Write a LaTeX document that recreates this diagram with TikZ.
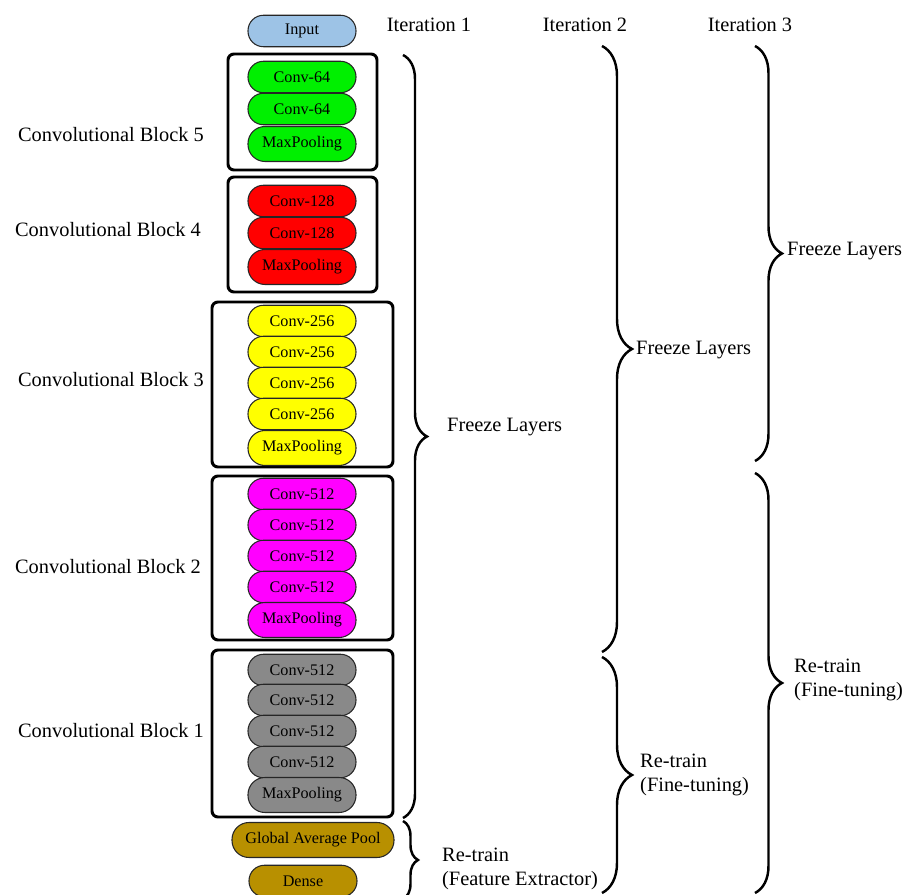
\documentclass[tikz,border=0pt]{standalone}
\usepackage{fontspec}
\setmainfont{Liberation Serif}
\usetikzlibrary{decorations.pathreplacing}

\definecolor{inputblue}{RGB}{157,195,230}
\definecolor{blockgreen}{RGB}{0,240,0}
\definecolor{blockred}{RGB}{255,0,0}
\definecolor{blockyellow}{RGB}{255,255,0}
\definecolor{blockmagenta}{RGB}{255,0,255}
\definecolor{blockgray}{RGB}{137,137,137}
\definecolor{headolive}{RGB}{184,144,0}

\begin{document}
\begin{tikzpicture}[x=0.2mm,y=-0.2mm,
    layer/.style={draw=black!85, line width=0.6pt, rounded corners=3.1mm,
        minimum width=21.6mm, minimum height=6.3mm, inner sep=0pt,
        font=\fontsize{9.2}{10}\selectfont},
    pool/.style={layer, minimum height=7mm, rounded corners=3.4mm},
    blockbox/.style={line width=1.7pt, rounded corners=1.2mm},
    bigtext/.style={font=\fontsize{11.6}{13.6}\selectfont},
    bigbrace/.style={decorate, decoration={brace, amplitude=#1}, line width=1.4pt}]

    \useasboundingbox (0,0) rectangle (907,895);

    % frames of the blocks
    \draw[blockbox] (228,54) rectangle (377,170);
    \draw[blockbox] (228,177) rectangle (377,292);
    \draw[blockbox] (212,302) rectangle (393,467);
    \draw[blockbox] (212,476) rectangle (393,640);
    \draw[blockbox] (212,650) rectangle (393,817);

    % input
    \node[layer, fill=inputblue] (input) at (302,31) {Input};

    % convolutional block 5
    \node[layer, fill=blockgreen] (b5c1) at (302,77) {Conv-64};
    \node[layer, fill=blockgreen] (b5c2) at (302,109) {Conv-64};
    \node[pool, fill=blockgreen] (b5p) at (302,144) {MaxPooling};

    % convolutional block 4
    \node[layer, fill=blockred] (b4c1) at (302,201) {Conv-128};
    \node[layer, fill=blockred] (b4c2) at (302,233) {Conv-128};
    \node[pool, fill=blockred] (b4p) at (302,267) {MaxPooling};

    % convolutional block 3
    \node[layer, fill=blockyellow] (b3c1) at (302,321) {Conv-256};
    \node[layer, fill=blockyellow] (b3c2) at (302,352) {Conv-256};
    \node[layer, fill=blockyellow] (b3c3) at (302,383) {Conv-256};
    \node[layer, fill=blockyellow] (b3c4) at (302,414) {Conv-256};
    \node[pool, fill=blockyellow] (b3p) at (302,448) {MaxPooling};

    % convolutional block 2
    \node[layer, fill=blockmagenta] (b2c1) at (302,494) {Conv-512};
    \node[layer, fill=blockmagenta] (b2c2) at (302,525) {Conv-512};
    \node[layer, fill=blockmagenta] (b2c3) at (302,556) {Conv-512};
    \node[layer, fill=blockmagenta] (b2c4) at (302,587) {Conv-512};
    \node[pool, fill=blockmagenta] (b2p) at (302,620) {MaxPooling};

    % convolutional block 1
    \node[layer, fill=blockgray] (b1c1) at (302,670) {Conv-512};
    \node[layer, fill=blockgray] (b1c2) at (302,700) {Conv-512};
    \node[layer, fill=blockgray] (b1c3) at (302,731) {Conv-512};
    \node[layer, fill=blockgray] (b1c4) at (302,762) {Conv-512};
    \node[pool, fill=blockgray] (b1p) at (302,795) {MaxPooling};

    % head
    \node[pool, fill=headolive, minimum width=32.4mm] (gap) at (313,840) {Global Average Pool};
    \node[layer, fill=headolive] (dense) at (303,881) {Dense};

    % block labels
    \node[bigtext] (lab5) at (111,135) {Convolutional Block 5};
    \node[bigtext] (lab4) at (108,230) {Convolutional Block 4};
    \node[bigtext] (lab3) at (111,380) {Convolutional Block 3};
    \node[bigtext] (lab2) at (108,567) {Convolutional Block 2};
    \node[bigtext] (lab1) at (111,731) {Convolutional Block 1};

    % iterations
    \node[bigtext] (it1) at (429,25) {Iteration 1};
    \node[bigtext] (it2) at (585,25) {Iteration 2};
    \node[bigtext] (it3) at (750,25) {Iteration 3};

    % iteration 1
    \draw[bigbrace=4.8mm] (403,55) -- (403,818);
    \node[bigtext, anchor=west] (fr1) at (441,427) {Freeze Layers};
    \draw[bigbrace=3mm] (403,821) -- (403,899);
    \node[bigtext, anchor=west, align=left] (rt1) at (436,869) {Re-train\\(Feature Extractor)};

    % iteration 2
    \draw[bigbrace=6mm] (602,46) -- (602,652);
    \node[bigtext, anchor=west] (fr2) at (630,350) {Freeze Layers};
    \draw[bigbrace=6mm] (602,657) -- (602,893);
    \node[bigtext, anchor=west, align=left] (rt2) at (634,775) {Re-train\\(Fine-tuning)};

    % iteration 3
    \draw[bigbrace=5.4mm] (755,46) -- (755,461);
    \node[bigtext, anchor=west] (fr3) at (781,251) {Freeze Layers};
    \draw[bigbrace=5.4mm] (755,473) -- (755,893);
    \node[bigtext, anchor=west, align=left] (rt3) at (788,680) {Re-train\\(Fine-tuning)};
\end{tikzpicture}
\end{document}
